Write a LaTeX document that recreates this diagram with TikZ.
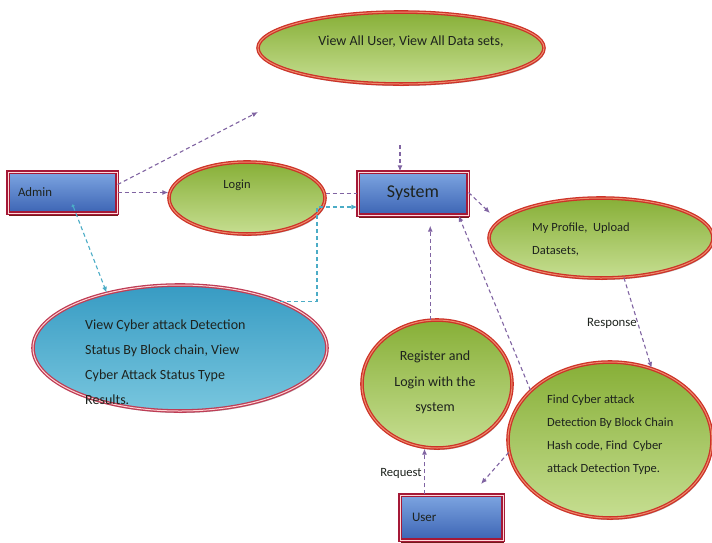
\documentclass[tikz,border=0pt]{standalone}
\usepackage{fontspec}
\setmainfont{Carlito}
\usetikzlibrary{arrows.meta,shapes.geometric,shadows}

\definecolor{morado}{RGB}{128,100,162}
\definecolor{cian}{RGB}{75,172,198}
\definecolor{rojo}{RGB}{205,50,40}
\definecolor{rojoclaro}{RGB}{238,140,110}
\definecolor{granate}{RGB}{165,25,55}
\definecolor{verdeosc}{RGB}{135,175,55}
\definecolor{verdecla}{RGB}{198,222,145}
\definecolor{azulosc}{RGB}{60,100,180}
\definecolor{azulcla}{RGB}{125,165,225}
\definecolor{turqosc}{RGB}{55,155,195}
\definecolor{turqcla}{RGB}{120,198,222}
\definecolor{tinta}{RGB}{30,35,30}

\begin{document}
\begin{tikzpicture}[x=1pt,y=-1pt,
  caja/.style={rectangle,draw=granate,line width=1.3pt,double=pink!60,double distance=0.9pt,
    top color=azulcla,bottom color=azulosc,inner sep=0pt,text=tinta,
    drop shadow={shadow xshift=1pt,shadow yshift=-3pt,fill=black!60!red,opacity=0.9}},
  elipse/.style={ellipse,draw=rojo,line width=1.3pt,double=rojoclaro,double distance=1pt,
    top color=verdeosc,bottom color=verdecla,inner sep=0pt,
    drop shadow={shadow xshift=1pt,shadow yshift=-2pt,fill=black!50,opacity=0.5}},
  elipseazul/.style={elipse,draw={rgb,255:red,190;green,60;blue,85},double=pink!70,
    top color=turqosc,bottom color=turqcla},
  texto/.style={font=\fontsize{12.5}{23}\selectfont,text=tinta,align=left,inner sep=0pt},
  flecha/.style={morado,line width=1.1pt,dash pattern=on 4pt off 3pt,-{Latex[length=6pt,width=5pt]}},
  flechacian/.style={flecha,cian},
]
\useasboundingbox (0,0) rectangle (712,542);

% Recuadros
\node[caja,minimum width=109pt,minimum height=41pt,text width=89pt,
  font=\fontsize{12.8}{14}\selectfont] (admin) at (62.5,192.5) {Admin};
\node[caja,minimum width=110pt,minimum height=43pt,
  font=\fontsize{18}{20}\selectfont] (system) at (413,193.5) {System};
\node[caja,minimum width=103pt,minimum height=45pt,text width=79pt,
  font=\fontsize{13}{14}\selectfont] (user) at (451.5,517.5) {User};

% Elipses
\node[elipse,minimum width=286pt,minimum height=72pt] (vista) at (401,48) {};
\node[elipse,minimum width=156pt,minimum height=72pt] (login) at (247,198) {};
\node[elipse,minimum width=224pt,minimum height=80pt] (perfil) at (601,238) {};
\node[elipseazul,minimum width=294pt,minimum height=126pt] (azul) at (180,348) {};
\node[elipse,minimum width=150pt,minimum height=128pt] (registro) at (437,384) {};
\node[elipse,minimum width=204pt,minimum height=156pt] (busqueda) at (610,440) {};

% Textos
\node[texto,font=\fontsize{14}{16}\selectfont] (vistatxt) at (411,42) {View All User, View All Data sets,};
\node[texto] (logintxt) at (237,185) {Login};
\node[texto,anchor=north west] (perfiltxt) at (532,223) {My Profile,\ \ Upload\\Datasets,};
\node[texto,font=\fontsize{14}{25}\selectfont,anchor=north west] (azultxt) at (85,320)
  {View Cyber attack Detection\\Status By Block chain, View\\Cyber Attack Status Type\\Results.};
\node[texto,font=\fontsize{14}{25.5}\selectfont,align=center,anchor=north] (registrotxt) at (435,351)
  {Register and\\Login with the\\system};
\node[texto,anchor=north west] (busquedatxt) at (547,395)
  {Find Cyber attack\\Detection By Block Chain\\Hash code, Find\ \ Cyber\\attack Detection Type.};
\node[texto,font=\fontsize{12.8}{14}\selectfont] (respuesta) at (612,323) {Response};
\node[texto,font=\fontsize{12.6}{14}\selectfont] (peticion) at (401,473) {Request};

% Conexiones
\coordinate (vistafin) at (258,112);
\draw[flecha] ([yshift=8pt]admin.east) -- (vistafin);
\draw[flecha] (admin.east) -- (admin.east -| login.west);
\draw[flecha,-] (login.east |- system.west) -- (system.west);

\coordinate (codo) at (317,207);
\draw[flechacian] (azul.25) -| (codo) -- (codo -| system.west);
\draw[flechacian,{Circle[length=3pt]}-{Latex[length=6pt,width=5pt]}]
  ([xshift=10pt,yshift=-12pt]admin.center) -- (azul.143);

\coordinate (entrada) at (400,145);
\draw[flecha] (entrada) -- (entrada |- system.north);

\coordinate (perfilfin) at (490,213);
\draw[flecha] ([yshift=1pt]system.east) -- (perfilfin);
\draw[flecha] (perfil.-60) -- (busqueda.60);
\draw[flecha] (busqueda.148) -- ([xshift=-10pt]system.south east);
\draw[flecha,shorten >=10pt] (registro.96) -- (registro.96 |- system.south);
\draw[flecha] ([xshift=-27pt]user.north) -- ([xshift=-27pt]user.north |- registro.south);

\coordinate (userfin) at (481,484);
\draw[flecha] (busqueda.187) -- (userfin);
\end{tikzpicture}
\end{document}
